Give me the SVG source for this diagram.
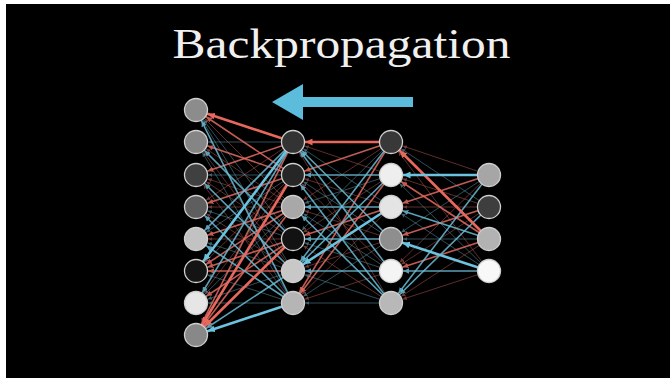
<svg xmlns="http://www.w3.org/2000/svg" width="670" height="378" viewBox="0 0 670 378">
<style>
.title{font-family:"Liberation Serif","Times New Roman",serif;font-size:42px;fill:#f0f0f0}
.node{stroke:#cfcfcf;stroke-width:1.3}
.R1{stroke:#e8685e;stroke-width:2.6;marker-end:url(#mr1)}
.R2{stroke:#e36d63;stroke-width:1.6;opacity:.85;marker-end:url(#mr2)}
.R3{stroke:#d26a62;stroke-width:.8;opacity:.55;marker-end:url(#mr3)}
.B1{stroke:#6cc3df;stroke-width:2.6;marker-end:url(#mb1)}
.B2{stroke:#6bbdd8;stroke-width:1.6;opacity:.85;marker-end:url(#mb2)}
.B3{stroke:#6fb2c8;stroke-width:.8;opacity:.55;marker-end:url(#mb3)}
</style>
<defs>
<marker id="mr1" markerUnits="userSpaceOnUse" viewBox="0 0 10 10" markerWidth="7" markerHeight="7" refX="27.9" refY="5" orient="auto"><path d="M0,0L10,5L0,10z" fill="#e8685e"/></marker>
<marker id="mr2" markerUnits="userSpaceOnUse" viewBox="0 0 10 10" markerWidth="5.5" markerHeight="5.5" refX="32.7" refY="5" orient="auto"><path d="M0,0L10,5L0,10z" fill="#e36d63"/></marker>
<marker id="mr3" markerUnits="userSpaceOnUse" viewBox="0 0 10 10" markerWidth="4" markerHeight="4" refX="41.2" refY="5" orient="auto"><path d="M0,0L10,5L0,10z" fill="#d26a62"/></marker>
<marker id="mb1" markerUnits="userSpaceOnUse" viewBox="0 0 10 10" markerWidth="7" markerHeight="7" refX="27.9" refY="5" orient="auto"><path d="M0,0L10,5L0,10z" fill="#6cc3df"/></marker>
<marker id="mb2" markerUnits="userSpaceOnUse" viewBox="0 0 10 10" markerWidth="5.5" markerHeight="5.5" refX="32.7" refY="5" orient="auto"><path d="M0,0L10,5L0,10z" fill="#6bbdd8"/></marker>
<marker id="mb3" markerUnits="userSpaceOnUse" viewBox="0 0 10 10" markerWidth="4" markerHeight="4" refX="41.2" refY="5" orient="auto"><path d="M0,0L10,5L0,10z" fill="#6fb2c8"/></marker>
</defs>
<rect x="0" y="0" width="670" height="378" fill="#ffffff"/>
<rect x="6" y="4" width="664" height="374" fill="#000000"/>
<text class="title" x="341.5" y="58.3" text-anchor="middle" textLength="338" lengthAdjust="spacingAndGlyphs">Backpropagation</text>
<g id="arrow">
<polygon points="272,102 303,84 303,97 413,97 413,107 303,107 303,120" fill="#5bbcdc"/>
</g>
<g id="connectors">
<!-- layer 2 -> layer 1 thin -->
<line x1="293" y1="207" x2="196" y2="110" class="R3"/>
<line x1="293" y1="207" x2="196" y2="142" class="R3"/>
<line x1="293" y1="271" x2="196" y2="142" class="R3"/>
<line x1="293" y1="207" x2="196" y2="175" class="R3"/>
<line x1="293" y1="239" x2="196" y2="175" class="R3"/>
<line x1="293" y1="303" x2="196" y2="175" class="R3"/>
<line x1="293" y1="142" x2="196" y2="207" class="R3"/>
<line x1="293" y1="207" x2="196" y2="207" class="R3"/>
<line x1="293" y1="271" x2="196" y2="207" class="R3"/>
<line x1="293" y1="239" x2="196" y2="239" class="R3"/>
<line x1="293" y1="175" x2="196" y2="271" class="R3"/>
<line x1="293" y1="175" x2="196" y2="303" class="R3"/>
<line x1="293" y1="239" x2="196" y2="110" class="B3"/>
<line x1="293" y1="271" x2="196" y2="110" class="B3"/>
<line x1="293" y1="142" x2="196" y2="142" class="B3"/>
<line x1="293" y1="303" x2="196" y2="142" class="B3"/>
<line x1="293" y1="175" x2="196" y2="175" class="B3"/>
<line x1="293" y1="239" x2="196" y2="207" class="B3"/>
<line x1="293" y1="175" x2="196" y2="239" class="B3"/>
<line x1="293" y1="271" x2="196" y2="239" class="B3"/>
<line x1="293" y1="303" x2="196" y2="271" class="B3"/>
<line x1="293" y1="207" x2="196" y2="303" class="B3"/>
<line x1="293" y1="271" x2="196" y2="303" class="B3"/>
<line x1="293" y1="303" x2="196" y2="303" class="B3"/>
<!-- layer 3 -> layer 2 thin -->
<line x1="391" y1="175" x2="293" y2="142" class="R3"/>
<line x1="391" y1="303" x2="293" y2="142" class="R3"/>
<line x1="391" y1="207" x2="293" y2="175" class="R3"/>
<line x1="391" y1="271" x2="293" y2="175" class="R3"/>
<line x1="391" y1="142" x2="293" y2="207" class="R3"/>
<line x1="391" y1="239" x2="293" y2="207" class="R3"/>
<line x1="391" y1="175" x2="293" y2="239" class="R3"/>
<line x1="391" y1="303" x2="293" y2="239" class="R3"/>
<line x1="391" y1="239" x2="293" y2="271" class="R3"/>
<line x1="391" y1="207" x2="293" y2="303" class="R3"/>
<line x1="391" y1="271" x2="293" y2="303" class="R3"/>
<line x1="391" y1="207" x2="293" y2="142" class="B3"/>
<line x1="391" y1="239" x2="293" y2="175" class="B3"/>
<line x1="391" y1="175" x2="293" y2="207" class="B3"/>
<line x1="391" y1="271" x2="293" y2="207" class="B3"/>
<line x1="391" y1="142" x2="293" y2="239" class="B3"/>
<line x1="391" y1="271" x2="293" y2="239" class="B3"/>
<line x1="391" y1="303" x2="293" y2="271" class="B3"/>
<line x1="391" y1="239" x2="293" y2="303" class="B3"/>
<line x1="391" y1="303" x2="293" y2="303" class="B3"/>
<!-- layer 4 -> layer 3 thin -->
<line x1="489" y1="175" x2="391" y2="142" class="R3"/>
<line x1="489" y1="271" x2="391" y2="142" class="R3"/>
<line x1="489" y1="207" x2="391" y2="175" class="R3"/>
<line x1="489" y1="207" x2="391" y2="207" class="R3"/>
<line x1="489" y1="175" x2="391" y2="271" class="R3"/>
<line x1="489" y1="207" x2="391" y2="271" class="R3"/>
<line x1="489" y1="239" x2="391" y2="303" class="R3"/>
<line x1="489" y1="271" x2="391" y2="303" class="R3"/>
<line x1="489" y1="207" x2="391" y2="142" class="B3"/>
<line x1="489" y1="271" x2="391" y2="175" class="B3"/>
<line x1="489" y1="271" x2="391" y2="207" class="B3"/>
<line x1="489" y1="175" x2="391" y2="239" class="B3"/>
<line x1="489" y1="239" x2="391" y2="239" class="B3"/>
<!-- medium -->
<line x1="293" y1="175" x2="196" y2="110" class="R2"/>
<line x1="293" y1="175" x2="196" y2="142" class="R2"/>
<line x1="293" y1="142" x2="196" y2="175" class="R2"/>
<line x1="293" y1="175" x2="196" y2="207" class="R2"/>
<line x1="293" y1="207" x2="196" y2="239" class="R2"/>
<line x1="293" y1="207" x2="196" y2="271" class="R2"/>
<line x1="293" y1="239" x2="196" y2="271" class="R2"/>
<line x1="293" y1="271" x2="196" y2="271" class="R2"/>
<line x1="293" y1="239" x2="196" y2="303" class="R2"/>
<line x1="293" y1="142" x2="196" y2="335" class="R2"/>
<line x1="293" y1="207" x2="196" y2="335" class="R2"/>
<line x1="293" y1="303" x2="196" y2="110" class="B2"/>
<line x1="293" y1="239" x2="196" y2="142" class="B2"/>
<line x1="293" y1="271" x2="196" y2="175" class="B2"/>
<line x1="293" y1="303" x2="196" y2="207" class="B2"/>
<line x1="293" y1="142" x2="196" y2="239" class="B2"/>
<line x1="293" y1="303" x2="196" y2="239" class="B2"/>
<line x1="293" y1="142" x2="196" y2="303" class="B2"/>
<line x1="293" y1="271" x2="196" y2="335" class="B2"/>
<line x1="391" y1="142" x2="293" y2="175" class="R2"/>
<line x1="391" y1="207" x2="293" y2="239" class="R2"/>
<line x1="391" y1="142" x2="293" y2="303" class="R2"/>
<line x1="391" y1="175" x2="293" y2="303" class="R2"/>
<line x1="391" y1="239" x2="293" y2="142" class="B2"/>
<line x1="391" y1="271" x2="293" y2="142" class="B2"/>
<line x1="391" y1="175" x2="293" y2="175" class="B2"/>
<line x1="391" y1="303" x2="293" y2="175" class="B2"/>
<line x1="391" y1="207" x2="293" y2="207" class="B2"/>
<line x1="391" y1="303" x2="293" y2="207" class="B2"/>
<line x1="391" y1="239" x2="293" y2="239" class="B2"/>
<line x1="391" y1="142" x2="293" y2="271" class="B2"/>
<line x1="391" y1="175" x2="293" y2="271" class="B2"/>
<line x1="391" y1="271" x2="293" y2="271" class="B2"/>
<line x1="489" y1="239" x2="391" y2="175" class="R2"/>
<line x1="489" y1="175" x2="391" y2="207" class="R2"/>
<line x1="489" y1="207" x2="391" y2="239" class="R2"/>
<line x1="489" y1="239" x2="391" y2="271" class="R2"/>
<line x1="489" y1="239" x2="391" y2="207" class="B2"/>
<line x1="489" y1="271" x2="391" y2="271" class="B2"/>
<line x1="489" y1="175" x2="391" y2="303" class="B2"/>
<line x1="489" y1="207" x2="391" y2="303" class="B2"/>
<!-- thick -->
<line x1="293" y1="142" x2="196" y2="110" class="R1"/>
<line x1="293" y1="175" x2="196" y2="335" class="R1"/>
<line x1="293" y1="239" x2="196" y2="335" class="R1"/>
<line x1="293" y1="142" x2="196" y2="271" class="B1"/>
<line x1="293" y1="303" x2="196" y2="335" class="B1"/>
<line x1="391" y1="142" x2="293" y2="142" class="R1"/>
<line x1="391" y1="207" x2="293" y2="271" class="B1"/>
<line x1="489" y1="239" x2="391" y2="142" class="R1"/>
<line x1="489" y1="175" x2="391" y2="175" class="B1"/>
<line x1="489" y1="271" x2="391" y2="239" class="B1"/>
</g>
<g id="layer1">
<g id="n1-1"><circle class="node" cx="196" cy="110" r="11.5" fill="#8c8c8c"/></g>
<g id="n1-2"><circle class="node" cx="196" cy="142" r="11.5" fill="#858585"/></g>
<g id="n1-3"><circle class="node" cx="196" cy="175" r="11.5" fill="#404040"/></g>
<g id="n1-4"><circle class="node" cx="196" cy="207" r="11.5" fill="#5e5e5e"/></g>
<g id="n1-5"><circle class="node" cx="196" cy="239" r="11.5" fill="#c2c2c2"/></g>
<g id="n1-6"><circle class="node" cx="196" cy="271" r="11.5" fill="#141414"/></g>
<g id="n1-7"><circle class="node" cx="196" cy="303" r="11.5" fill="#e6e6e6"/></g>
<g id="n1-8"><circle class="node" cx="196" cy="335" r="11.5" fill="#888888"/></g>
</g>
<g id="layer2">
<g id="n2-1"><circle class="node" cx="293" cy="142" r="11.5" fill="#333333"/></g>
<g id="n2-2"><circle class="node" cx="293" cy="175" r="11.5" fill="#262626"/></g>
<g id="n2-3"><circle class="node" cx="293" cy="207" r="11.5" fill="#a8a8a8"/></g>
<g id="n2-4"><circle class="node" cx="293" cy="239" r="11.5" fill="#121212"/></g>
<g id="n2-5"><circle class="node" cx="293" cy="271" r="11.5" fill="#c8c8c8"/></g>
<g id="n2-6"><circle class="node" cx="293" cy="303" r="11.5" fill="#b5b5b5"/></g>
</g>
<g id="layer3">
<g id="n3-1"><circle class="node" cx="391" cy="142" r="11.5" fill="#383838"/></g>
<g id="n3-2"><circle class="node" cx="391" cy="175" r="11.5" fill="#eeeeee"/></g>
<g id="n3-3"><circle class="node" cx="391" cy="207" r="11.5" fill="#e4e4e4"/></g>
<g id="n3-4"><circle class="node" cx="391" cy="239" r="11.5" fill="#8e8e8e"/></g>
<g id="n3-5"><circle class="node" cx="391" cy="271" r="11.5" fill="#f4f4f4"/></g>
<g id="n3-6"><circle class="node" cx="391" cy="303" r="11.5" fill="#b8b8b8"/></g>
</g>
<g id="layer4">
<g id="n4-1"><circle class="node" cx="489" cy="175" r="11.5" fill="#a6a6a6"/></g>
<g id="n4-2"><circle class="node" cx="489" cy="207" r="11.5" fill="#3e3e3e"/></g>
<g id="n4-3"><circle class="node" cx="489" cy="239" r="11.5" fill="#b2b2b2"/></g>
<g id="n4-4"><circle class="node" cx="489" cy="271" r="11.5" fill="#f8f8f8"/></g>
</g>
</svg>
